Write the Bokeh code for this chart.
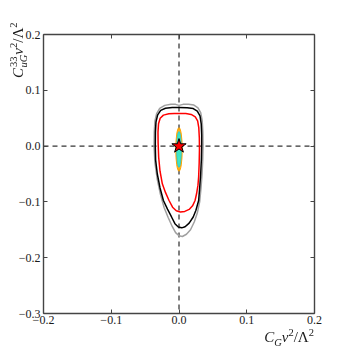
from bokeh.plotting import figure
from bokeh.models import (Range1d, FixedTicker, LinearAxis, CustomJSTickFormatter,
                          Span, Div)
from bokeh.embed import file_html
from bokeh.resources import INLINE

# ---------------- data ----------------
X_TICKS = [-0.2, -0.1, 0.0, 0.1, 0.2]
Y_TICKS = [-0.3, -0.2, -0.1, 0.0, 0.1, 0.2]

# outer (gray) contour
GRAY_X = [0.000, 0.006, 0.014, 0.022, 0.028, 0.0320, 0.0342, 0.0352, 0.0355, 0.0350,
          0.0340, 0.0325, 0.0305, 0.0270, 0.0225, 0.0170, 0.0110, 0.0050, 0.0000,
          -0.0050, -0.0100, -0.0160, -0.0220, -0.0275, -0.0320, -0.0355, -0.0368,
          -0.0365, -0.0355, -0.0330, -0.0285, -0.0210, -0.0120, -0.0050, 0.000]
GRAY_Y = [0.0730, 0.0748, 0.0752, 0.0735, 0.0685, 0.060, 0.046, 0.025, 0.000, -0.025,
          -0.050, -0.075, -0.100, -0.120, -0.136, -0.150, -0.158, -0.162, -0.1605,
          -0.155, -0.144, -0.128, -0.110, -0.086, -0.060, -0.030, 0.000,
          0.025, 0.045, 0.058, 0.0675, 0.0730, 0.0750, 0.0748, 0.0730]

# middle (black) contour
BLACK_X = [0.000, 0.012, 0.021, 0.027, 0.031, 0.0328, 0.0335, 0.0335, 0.0330, 0.0320,
           0.0305, 0.0290, 0.0250, 0.0210, 0.0150, 0.0090, 0.0040, -0.0010, -0.0060,
           -0.0110, -0.0170, -0.0230, -0.0280, -0.0320, -0.0345, -0.0350, -0.0348,
           -0.0340, -0.0315, -0.0270, -0.0200, -0.0100, 0.000]
BLACK_Y = [0.0690, 0.0688, 0.0672, 0.0625, 0.054, 0.040, 0.020, 0.000, -0.025, -0.050,
           -0.075, -0.0975, -0.115, -0.127, -0.138, -0.1445, -0.1465, -0.1450, -0.139,
           -0.127, -0.113, -0.0975, -0.075, -0.050, -0.025, 0.000, 0.025,
           0.043, 0.056, 0.064, 0.0678, 0.0690, 0.0690]

# inner (red) contour
RED_X = [0.000, 0.010, 0.018, 0.024, 0.0275, 0.0292, 0.0300, 0.0302, 0.0298, 0.0290,
         0.0280, 0.0260, 0.0237, 0.0200, 0.0150, 0.0085, 0.0020, -0.0040, -0.0095,
         -0.0147, -0.0200, -0.0246, -0.0280, -0.0300, -0.0308, -0.0310, -0.0302,
         -0.0278, -0.0230, -0.0150, -0.0070, 0.000]
RED_Y = [0.0585, 0.0583, 0.0568, 0.0525, 0.045, 0.033, 0.015, -0.005, -0.030, -0.055,
         -0.070, -0.085, -0.0975, -0.107, -0.1135, -0.1170, -0.1180, -0.1160, -0.1095,
         -0.0975, -0.083, -0.0676, -0.045, -0.020, 0.005, 0.025, 0.040,
         0.050, 0.0555, 0.0578, 0.0585, 0.0585]

# small ellipses (center x, center y, width, height)
ORANGE_ELL = dict(x=[0.0], y=[-0.006], w=[0.0095], h=[0.078])
CYAN_ELL = dict(x=[0.0], y=[-0.006], w=[0.0068], h=[0.064])

# best point
STAR_X = [0.0]
STAR_Y = [0.0]

# ---------------- styling ----------------
SERIF = "Liberation Serif"
FRAME = "#444444"
TEXT = "#1a1a1a"

p = figure(width=349, height=349,
           x_range=Range1d(-0.2, 0.2), y_range=Range1d(-0.3, 0.2),
           output_backend="svg", toolbar_location=None,
           min_border_left=43, min_border_right=35,
           min_border_top=34, min_border_bottom=36)
p.grid.visible = False
p.outline_line_color = None
p.background_fill_color = "white"
p.border_fill_color = "white"

fmt_code = """
const v = Math.abs(tick) < 1e-9 ? 0 : tick;
return v.toFixed(1).replace('-', '\\u2212');
"""


def style_axis(ax, ticks, show_labels, standoff):
    ax.ticker = FixedTicker(ticks=ticks, minor_ticks=[])
    ax.major_tick_in = 4
    ax.major_tick_out = 0
    ax.minor_tick_in = 0
    ax.minor_tick_out = 0
    ax.axis_line_color = FRAME
    ax.axis_line_width = 1.4
    ax.major_tick_line_color = FRAME
    ax.major_tick_line_width = 1
    if show_labels:
        ax.formatter = CustomJSTickFormatter(code=fmt_code)
        ax.major_label_text_font = SERIF
        ax.major_label_text_font_size = "12px"
        ax.major_label_text_color = TEXT
        ax.major_label_standoff = standoff
    else:
        ax.formatter = CustomJSTickFormatter(code="return '';")
        ax.major_label_text_font_size = "0px"
        ax.major_label_standoff = 0


style_axis(p.xaxis[0], X_TICKS, True, 2)
style_axis(p.yaxis[0], Y_TICKS, True, 3)
top_ax = LinearAxis()
right_ax = LinearAxis()
style_axis(top_ax, X_TICKS, False, 0)
style_axis(right_ax, Y_TICKS, False, 0)
p.add_layout(top_ax, "above")
p.add_layout(right_ax, "right")

# zero lines (under the glyphs)
p.add_layout(Span(location=0, dimension="height", line_color="black",
                  line_width=1, line_dash="5 4", level="underlay"))
p.add_layout(Span(location=0, dimension="width", line_color="black",
                  line_width=1, line_dash="5 4", level="underlay"))

# contours
p.line(GRAY_X, GRAY_Y, line_color="#a0a0a0", line_width=1.5)
p.line(BLACK_X, BLACK_Y, line_color="black", line_width=1.5)
p.line(RED_X, RED_Y, line_color="red", line_width=1.5)

# inner regions
p.ellipse(x=ORANGE_ELL["x"], y=ORANGE_ELL["y"], width=ORANGE_ELL["w"],
          height=ORANGE_ELL["h"], fill_color="orange", fill_alpha=0.9,
          line_color="orange", line_width=1)
p.ellipse(x=CYAN_ELL["x"], y=CYAN_ELL["y"], width=CYAN_ELL["w"],
          height=CYAN_ELL["h"], fill_color="cyan", fill_alpha=0.75,
          line_color="#1ec8e0", line_width=0.8)

# star
p.scatter(STAR_X, STAR_Y, marker="star", size=15, fill_color="red",
          line_color="black", line_width=1)

# ---------------- axis titles (real HTML text with sub/superscripts) ----------------
BASE = ("font-family:'Liberation Serif',serif;font-size:15px;line-height:15px;"
        "white-space:nowrap;color:%s;" % TEXT)
SUP = "font-size:10.5px;position:relative;top:-6.5px;"
SUB = "font-size:10.5px;position:relative;top:3.5px;"

x_html = ('<div style="%s"><i>C</i><i style="%s">G</i><i>v</i>'
          '<span style="%s">2</span>/\u039b<span style="%s">2</span></div>'
          % (BASE, SUB, SUP, SUP))
y_html = ('<div style="%s"><i>C</i><span style="%smargin-left:1px;">33</span>'
          '<i style="%smargin-left:-11px;">uG</i><i>v</i>'
          '<span style="%s">2</span>/\u039b<span style="%s">2</span></div>'
          % (BASE, SUP, SUB, SUP, SUP))

x_title = Div(text=x_html, margin=(0, 0, 0, 0),
              styles={"position": "fixed", "right": "35px", "top": "330px"})
y_title = Div(text=y_html, margin=(0, 0, 0, 0),
              styles={"position": "fixed", "left": "11px", "top": "78px",
                      "transform-origin": "0 0", "transform": "rotate(-90deg)"})

open("out.html", "w").write(file_html([p, x_title, y_title], INLINE))
